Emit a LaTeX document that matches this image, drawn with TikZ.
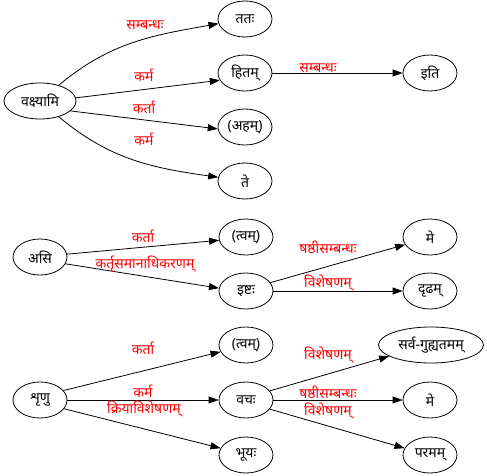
\documentclass[tikz,border=0pt]{standalone}
\usepackage{fontspec}
\newfontfamily\deva[Script=Devanagari]{Noto Sans}
\usepackage{tikz}
\usetikzlibrary{arrows.meta,shapes.geometric}
\definecolor{relred}{HTML}{FF0000}
\tikzset{
  wd/.style={ellipse, draw=black, line width=0.8pt, minimum width=54pt, minimum height=36pt, inner sep=1pt, font=\deva\fontsize{14}{16}\selectfont},
  rel/.style={-{Triangle[length=10pt,width=7pt]}, line width=0.8pt, color=black},
  lbl/.style={text=relred, inner sep=0pt, font=\deva\fontsize{14}{16}\selectfont},
}
\begin{document}
\begin{tikzpicture}[x=1pt,y=-1pt]
    \useasboundingbox (0,0) rectangle (487,476);
    % first sentence
    \node[wd, minimum width=72pt] (vak) at (40,101) {वक्ष्यामि};
    \node[wd] (tatah) at (245,19) {ततः};
    \node[wd] (hitam) at (245,73) {हितम्};
    \node[wd] (aham) at (245,127) {(अहम्)};
    \node[wd] (te) at (245,181) {ते};
    \node[wd] (iti) at (430,73) {इति};
    \draw[rel] (vak) to[out=40,in=190] (tatah);
    \draw[rel] (vak.5) -- (hitam.196);
    \draw[rel] (vak.-18) -- (aham.184);
    \draw[rel] (vak) to[out=-40,in=172] (te);
    \draw[rel] (hitam) -- (iti);
    \node[lbl] (l1) at (145,25) {सम्बन्धः};
    \node[lbl] (l2) at (144,75) {कर्म};
    \node[lbl] (l3) at (144,107) {कर्ता};
    \node[lbl] (l4) at (144,139) {कर्म};
    \node[lbl] (l5) at (318,68) {सम्बन्धः};
    % second sentence
    \node[wd] (asi) at (40,257) {असि};
    \node[wd] (tvamA) at (246,237) {(त्वम्)};
    \node[wd] (ishtah) at (246,291) {इष्टः};
    \node[wd] (meA) at (430,237) {मे};
    \node[wd] (dridham) at (430,291) {दृढम्};
    \draw[rel] (asi.6) -- (tvamA.187);
    \draw[rel] (asi.-15) -- (ishtah.174);
    \draw[rel] (ishtah.19) -- (meA.197);
    \draw[rel] (ishtah) -- (dridham);
    \node[lbl] (l6) at (143,236) {कर्ता};
    \node[lbl] (l7) at (145,264) {कर्तृसमानाधिकरणम्};
    \node[lbl] (l8) at (328,247) {षष्ठीसम्बन्धः};
    \node[lbl] (l9) at (328,283) {विशेषणम्};
    % third sentence
    \node[wd] (shrinu) at (40,400) {शृणु};
    \node[wd] (tvamB) at (246,345) {(त्वम्)};
    \node[wd] (vachah) at (246,400) {वचः};
    \node[wd] (bhuyah) at (246,455) {भूयः};
    \node[wd, minimum width=105pt] (sarva) at (431,345) {सर्व-गुह्यतमम्};
    \node[wd] (meB) at (430,400) {मे};
    \node[wd] (paramam) at (430,455) {परमम्};
    \draw[rel] (shrinu.22) -- (tvamB.195);
    \draw[rel] (shrinu) -- (vachah);
    \draw[rel] (shrinu.-20) -- (bhuyah.165);
    \draw[rel] (vachah.21) -- (sarva.195);
    \draw[rel] (vachah) -- (meB);
    \draw[rel] (vachah.-21) -- (paramam.165);
    \node[lbl] (l10) at (143,348) {कर्ता};
    \node[lbl] (l11) at (143,391) {कर्म};
    \node[lbl] (l12) at (144,409) {क्रियाविशेषणम्};
    \node[lbl] (l13) at (328,355) {विशेषणम्};
    \node[lbl] (l14) at (328,392) {षष्ठीसम्बन्धः};
    \node[lbl] (l15) at (328,411) {विशेषणम्};
\end{tikzpicture}
\end{document}
